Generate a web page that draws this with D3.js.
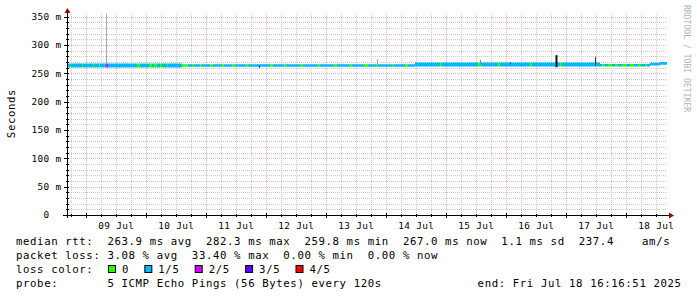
<!DOCTYPE html>
<html>
<head>
<meta charset="utf-8">
<script src="https://cdn.jsdelivr.net/npm/d3@7"></script>
<style>
  body { margin: 0; background: #fff; }
  text { white-space: pre; }
</style>
</head>
<body>
<div id="graph_container"></div>
<script>
// smokeping style rtt graph, 10 days
var start = new Date(2025, 6, 8, 16, 16, 51);
var end = new Date(2025, 6, 18, 16, 16, 51);

var yTicks = [0, 50, 100, 150, 200, 250, 300, 350];
var yTickLabels = ["0  ", "50 m", "100 m", "150 m", "200 m", "250 m", "300 m", "350 m"];

var lossLabels = ["0", "1/5", "2/5", "3/5", "4/5"];
var lossColors = ["#26ff00", "#00b8ff", "#d400ff", "#5a00ff", "#ff0000"];

// median band edges (hours since start, ms)
var bandHour = [0, 46, 139.2, 213.2, 233.2, 237.2];
var bandLo = [260.6, 261.8, 262.4, 262.4, 264.0, 265.5];
var bandHi = [267.4, 266.3, 269.4, 266.8, 268.8, 270.4];

// loss level of the median line, from each hour onwards
var lossHour = [0, 1.2, 1.6, 6, 6.4, 10.4, 10.8, 12.8, 13.2, 15.6, 16.4, 28, 29.2, 32.8, 34, 34.8, 36, 37.2, 38, 40, 40.4,
  46, 48.4, 50, 50.8, 53.2, 54, 57.2, 58.4, 62, 62.8, 66, 67.2, 71.6, 72.4, 81.2, 82.4, 86.8, 87.6, 93.2, 94.4,
  100.4, 101.2, 106.8, 108, 113.2, 114, 118.8, 120.4, 123.6, 124.4, 130, 130.8, 135.2, 136.4, 149.2, 150,
  164.4, 165.6, 172.4, 173.2, 185.2, 186, 197.2, 198, 214, 215.2, 216.4, 218, 219.2, 220.4, 222, 224,
  225.2, 226.8, 228.4, 229.6, 231.2, 232];
var lossLevel = [1, 0, 1, 0, 1, 0, 1, 0, 1, 2, 1, 0, 1, 0, 1, 0, 1, 0, 1, 0, 1,
  0, 1, 0, 1, 0, 1, 0, 1, 0, 1, 0, 1, 0, 1, 0, 1, 0, 1, 0, 1,
  0, 1, 0, 1, 0, 1, 0, 1, 0, 1, 0, 1, 0, 1, 0, 1,
  0, 1, 0, 1, 0, 1, 0, 1, 0, 1, 0, 1, 0, 1, 0, 1,
  0, 1, 0, 1, 0, 1];

// smoke spikes
var spikeHour = [15.6, 76.8, 124, 165.2, 177, 195.6, 211.2];
var spikeLo = [266, 259.5, 266, 266, 266, 261, 264];
var spikeHi = [355, 264, 275, 274, 270, 282.3, 279];
var spikeShade = ["#a8a8a8", "#404040", "#999999", "#888888", "#555555", "#111111", "#333333"];
var spikeWidth = [1, 1, 1, 1, 1, 2, 1];

var statLines = [
  "median rtt:  263.9 ms avg  282.3 ms max  259.8 ms min  267.0 ms now  1.1 ms sd  237.4    am/s",
  "packet loss: 3.08 % avg  33.40 % max  0.00 % min  0.00 % now"
];
var probeText = "probe:       5 ICMP Echo Pings (56 Bytes) every 120s";
var endText = "end: Fri Jul 18 16:16:51 2025";

var W = 697, H = 297;
var pLeft = 67, pRight = 667, pBottom = 215, pTop = 14;
var mono = "'DejaVu Sans Mono', monospace";

var x = d3.scaleTime().domain([start, end]).range([pLeft, pRight]);
var y = d3.scaleLinear().domain([0, 355]).range([pBottom, pTop]);
function at(h) { return new Date(+start + h * 3600e3); }
function px(v) { return Math.round(v) + 0.5; }

var svg = d3.select("#graph_container").append("svg")
    .attr("width", W)
    .attr("height", H)
    .style("display", "block");

svg.append("rect").attr("width", W).attr("height", H).attr("fill", "#fff");

// grid
var grid = svg.append("g");
var minorY = y.ticks(35).filter(function(v) { return v % 50 != 0; });
grid.selectAll(".hmin").data(minorY).enter().append("line")
    .attr("x1", pLeft).attr("x2", pRight)
    .attr("y1", function(d) { return px(y(d)); })
    .attr("y2", function(d) { return px(y(d)); })
    .attr("stroke", "#c8c8c8").attr("stroke-dasharray", "1,1");
var minorX = d3.timeHour.every(6).range(start, end).filter(function(d) { return d.getHours() != 0; });
grid.selectAll(".vmin").data(minorX).enter().append("line")
    .attr("x1", function(d) { return px(x(d)); })
    .attr("x2", function(d) { return px(x(d)); })
    .attr("y1", pTop).attr("y2", pBottom)
    .attr("stroke", "#c8c8c8").attr("stroke-dasharray", "1,1");
grid.selectAll(".hmaj").data(yTicks.slice(1)).enter().append("line")
    .attr("x1", pLeft).attr("x2", pRight)
    .attr("y1", function(d) { return px(y(d)); })
    .attr("y2", function(d) { return px(y(d)); })
    .attr("stroke", "#f2b4b4").attr("stroke-dasharray", "1,1");
var days = d3.timeDay.range(d3.timeDay.ceil(start), end);
grid.selectAll(".vmaj").data(days).enter().append("line")
    .attr("x1", function(d) { return px(x(d)); })
    .attr("x2", function(d) { return px(x(d)); })
    .attr("y1", pTop).attr("y2", pBottom)
    .attr("stroke", "#f2b4b4").attr("stroke-dasharray", "1,1");

// median band, coloured by loss
var bandPts = bandHour.map(function(h, i) { return [h, bandLo[i], bandHi[i]]; });
bandPts.push([240, bandLo[bandLo.length - 1], bandHi[bandHi.length - 1]]);
var bandArea = d3.area()
    .curve(d3.curveStepAfter)
    .x(function(d) { return x(at(d[0])); })
    .y0(function(d) { return y(d[1]); })
    .y1(function(d) { return y(d[2]); });
svg.append("clipPath").attr("id", "band")
    .append("path").attr("d", bandArea(bandPts));

svg.append("g").attr("clip-path", "url(#band)")
    .selectAll("rect").data(lossHour).enter().append("rect")
    .attr("shape-rendering", "crispEdges")
    .attr("x", function(d) { return Math.round(x(at(d))); })
    .attr("width", function(d, i) {
        var h1 = i + 1 < lossHour.length ? lossHour[i + 1] : 240;
        return Math.max(1, Math.round(x(at(h1))) - Math.round(x(at(d))));
    })
    .attr("y", y(275)).attr("height", y(255) - y(275))
    .attr("fill", function(d, i) { return lossColors[lossLevel[i]]; });

svg.append("g").selectAll("line").data(spikeHour).enter().append("line")
    .attr("x1", function(d) { return px(x(at(d))); })
    .attr("x2", function(d) { return px(x(at(d))); })
    .attr("y1", function(d, i) { return y(spikeLo[i]); })
    .attr("y2", function(d, i) { return y(spikeHi[i]); })
    .attr("stroke", function(d, i) { return spikeShade[i]; })
    .attr("stroke-width", function(d, i) { return spikeWidth[i]; });

// axes
var axis = svg.append("g").attr("stroke", "#000").attr("shape-rendering", "crispEdges");
axis.append("line").attr("x1", pLeft - 4).attr("x2", pRight + 3).attr("y1", pBottom + 0.5).attr("y2", pBottom + 0.5);
axis.append("line").attr("x1", pLeft + 0.5).attr("x2", pLeft + 0.5).attr("y1", pBottom + 3).attr("y2", pTop - 2);
axis.selectAll(".yt").data(yTicks).enter().append("line")
    .attr("x1", pLeft - 3).attr("x2", pLeft + 2)
    .attr("y1", function(d) { return px(y(d)); }).attr("y2", function(d) { return px(y(d)); });
axis.selectAll(".ym").data(minorY).enter().append("line")
    .attr("x1", pLeft - 1).attr("x2", pLeft + 2)
    .attr("y1", function(d) { return px(y(d)); }).attr("y2", function(d) { return px(y(d)); });
axis.selectAll(".xt").data(days).enter().append("line")
    .attr("x1", function(d) { return px(x(d)); }).attr("x2", function(d) { return px(x(d)); })
    .attr("y1", pBottom - 2).attr("y2", pBottom + 3);
axis.selectAll(".xm").data(minorX).enter().append("line")
    .attr("x1", function(d) { return px(x(d)); }).attr("x2", function(d) { return px(x(d)); })
    .attr("y1", pBottom - 1).attr("y2", pBottom + 2);

svg.append("path")
    .attr("d", "M" + (pRight + 2) + "," + (pBottom - 2.5) + "L" + (pRight + 7) + "," + (pBottom + 0.5) + "L" + (pRight + 2) + "," + (pBottom + 3.5) + "Z")
    .attr("fill", "#a00000");
svg.append("path")
    .attr("d", "M" + (pLeft - 2.5) + "," + (pTop - 1) + "L" + (pLeft + 0.5) + "," + (pTop - 6) + "L" + (pLeft + 3.5) + "," + (pTop - 1) + "Z")
    .attr("fill", "#a00000");

// tick labels
svg.append("g").selectAll("text").data(yTicks).enter().append("text")
    .attr("x", 61.4)
    .attr("y", function(d) { return y(d); })
    .attr("dy", "0.35em")
    .attr("text-anchor", "end")
    .style("font-family", mono).style("font-size", "9.4px").style("letter-spacing", "0.35px")
    .attr("fill", "#000")
    .text(function(d, i) { return yTickLabels[i]; });

var noon = days.map(function(d) { return d3.timeHour.offset(d, 12); }).filter(function(d) { return d < end; });
svg.append("g").selectAll("text").data(noon).enter().append("text")
    .attr("x", function(d) { return x(d); })
    .attr("y", 228.5)
    .attr("text-anchor", "middle")
    .style("font-family", mono).style("font-size", "9.4px").style("letter-spacing", "0.35px")
    .attr("fill", "#000")
    .text(d3.timeFormat("%d %b"));

svg.append("text")
    .attr("transform", "translate(14.5,113.5) rotate(-90)")
    .attr("text-anchor", "middle")
    .style("font-family", mono).style("font-size", "10.7px").style("letter-spacing", "0.6px")
    .text("Seconds");

svg.append("text")
    .attr("transform", "translate(684.3,5) rotate(90)")
    .style("font-family", mono).style("font-size", "8.1px")
    .attr("fill", "#b4b4b4")
    .text("RRDTOOL / TOBI OETIKER");

// legend
var leg = svg.append("g")
    .style("font-family", mono).style("font-size", "10.7px").style("letter-spacing", "0.6px")
    .attr("fill", "#000");
leg.selectAll(".stat").data(statLines).enter().append("text")
    .attr("x", 16).attr("y", function(d, i) { return 245 + i * 14; })
    .text(function(d) { return d; });
leg.append("text").attr("x", 16).attr("y", 273).text("loss color:");
var cw = 7.03, sx = 108;
lossLabels.forEach(function(l, i) {
    leg.append("rect")
        .attr("x", sx + 0.5).attr("y", 265.5).attr("width", 7).attr("height", 7)
        .attr("fill", lossColors[i]).attr("stroke", "#000");
    leg.append("text").attr("x", sx + 14).attr("y", 273).text(l);
    sx = sx + 14 + l.length * cw + 15.3;
});
leg.append("text").attr("x", 16).attr("y", 287).text(probeText);
leg.append("text").attr("x", 477.6).attr("y", 287).text(endText);
</script>
</body>
</html>
